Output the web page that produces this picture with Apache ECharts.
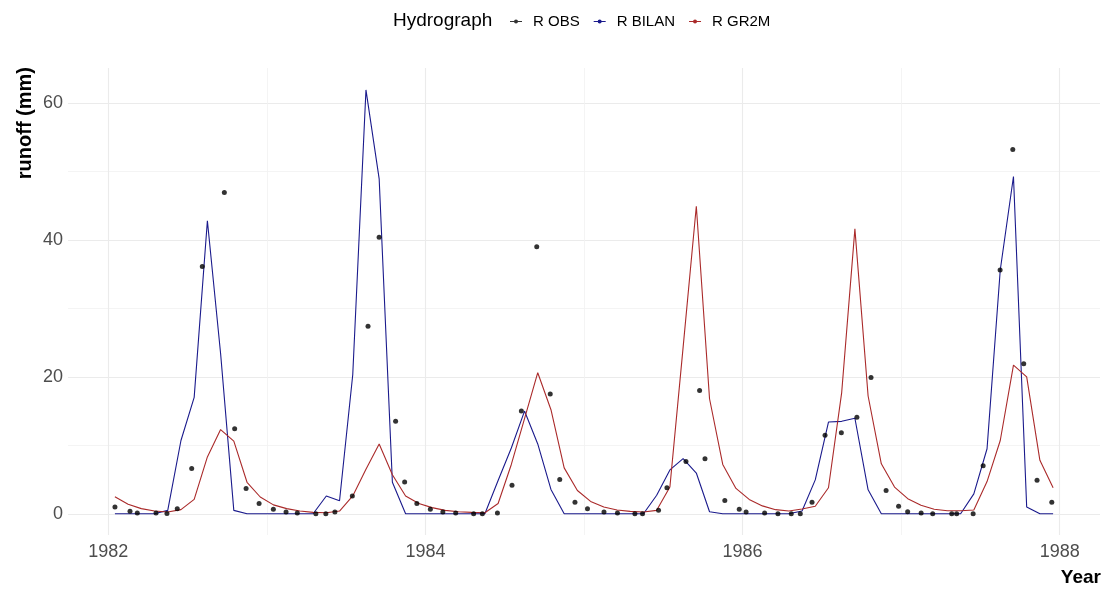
<!DOCTYPE html>
<html>
<head>
<meta charset="utf-8">
<script src="https://cdn.jsdelivr.net/npm/echarts@6/dist/echarts.min.js"></script>
<style>
html,body{margin:0;padding:0;background:#fff;}
#chart{width:1108px;height:589px;}
</style>
</head>
<body>
<div id="chart"></div>
<script>
// ---- data ----
const startYear = 1982;           // monthly model series, Jan 1982 .. Dec 1987 (mid-month)
const rBilan = [0,0,0,0,0.5,10.7,17.0,42.8,23.4,0.5,0,0,
                0,0,0,0,2.6,1.9,20.3,61.9,48.9,4.6,0,0,
                0,0,0,0,0,4.85,9.6,15.0,10.2,3.55,0,0,
                0,0,0,0,0,2.7,6.4,8.05,5.95,0.3,0,0,
                0,0,0,0,0.4,4.95,13.4,13.5,13.95,3.5,0,0,
                0,0,0,0,0,2.9,9.5,35.6,49.25,1.0,0,0];
const rGr2m = [2.5,1.4,0.75,0.4,0.27,0.6,2.1,8.3,12.3,10.6,4.6,2.45,
               1.3,0.75,0.4,0.2,0.15,0.4,2.6,6.5,10.2,5.7,2.6,1.5,
               0.9,0.5,0.3,0.2,0.15,1.5,7.2,13.9,20.6,15.2,6.7,3.4,
               1.8,1.0,0.55,0.35,0.25,0.5,3.9,24.3,44.9,16.8,7.2,3.7,
               2.1,1.15,0.6,0.4,0.7,1.1,3.8,17.7,41.6,17.2,7.3,3.9,
               2.2,1.25,0.65,0.45,0.45,0.55,4.7,10.7,21.7,20.0,7.8,3.8];
const obsTime = [1982.042,1982.137,1982.183,1982.301,1982.370,1982.435,1982.526,1982.593,1982.732,1982.797,1982.869,1982.951,
                 1983.041,1983.121,1983.192,1983.309,1983.372,1983.429,1983.539,1983.638,1983.708,1983.812,1983.869,1983.946,
                 1984.031,1984.110,1984.191,1984.304,1984.359,1984.454,1984.546,1984.605,1984.702,1984.787,1984.847,1984.943,
                 1985.022,1985.126,1985.211,1985.321,1985.369,1985.470,1985.523,1985.643,1985.729,1985.763,1985.888,1985.979,
                 1986.022,1986.139,1986.223,1986.307,1986.364,1986.438,1986.520,1986.623,1986.721,1986.810,1986.905,1986.984,
                 1987.041,1987.126,1987.199,1987.319,1987.350,1987.454,1987.517,1987.624,1987.704,1987.773,1987.857,1987.950];
const rObs = [1.0,0.36,0.1,0.1,0.05,0.75,6.6,36.1,46.9,12.4,3.7,1.5,
              0.65,0.27,0.1,0,0,0.25,2.6,27.4,40.4,13.5,4.65,1.5,
              0.65,0.27,0.1,0,0,0.1,4.15,15.0,39.0,17.5,5.0,1.7,
              0.75,0.27,0.1,0,0,0.5,3.8,7.65,18.0,8.05,1.95,0.65,
              0.27,0.1,0,0,0,1.7,11.45,11.85,14.1,19.9,3.4,1.1,
              0.3,0.1,0,0,0,0,7.0,35.6,53.2,21.9,4.9,1.7];
const xMajorTicks = [1982,1984,1986,1988];
const xMinorTicks = [1983,1985,1987];
const yMajorTicks = [0,20,40,60];
const yMinorTicks = [10,30,50];
const seriesNames = ['R OBS','R BILAN','R GR2M'];
const legendTitle = 'Hydrograph';
const xTitle = 'Year';
const yTitle = 'runoff (mm)';

// ---- build ----
const monthPos = rBilan.map((_, i) => startYear + (i + 0.5) / 12);
const bilanData = rBilan.map((v, i) => [monthPos[i], v]);
const gr2mData = rGr2m.map((v, i) => [monthPos[i], v]);
const obsData = rObs.map((v, i) => [obsTime[i], v]);

const FONT = '"Liberation Sans", Arial, Helvetica, sans-serif';
const XMIN = 1981.746, XMAX = 1988.254, YMIN = -3.1, YMAX = 65.1;
const icon = 'path://M0,4.45H12V5.55H0Z M4,5a2,2 0 1,1 4,0a2,2 0 1,1 -4,0Z';

const chart = echarts.init(document.getElementById('chart'), null, {renderer: 'canvas'});
chart.setOption({
  animation: false,
  backgroundColor: '#ffffff',
  grid: {left: 68, right: 8, top: 68, bottom: 54, containLabel: false},
  xAxis: [{
    type: 'value', min: XMIN, max: XMAX,
    axisLine: {show: false},
    axisTick: {show: false, customValues: xMajorTicks},
    axisLabel: {customValues: xMajorTicks, color: '#4D4D4D', fontSize: 18, fontFamily: FONT, margin: 8,
                formatter: v => String(Math.round(v))},
    splitLine: {show: true, lineStyle: {color: '#EBEBEB', width: 1.1}}
  }, {
    type: 'value', min: XMIN, max: XMAX, position: 'top',
    axisLine: {show: false}, axisLabel: {show: false},
    axisTick: {show: false, customValues: xMinorTicks},
    splitLine: {show: true, lineStyle: {color: '#F1F1F1', width: 0.8}}
  }],
  yAxis: [{
    type: 'value', min: YMIN, max: YMAX,
    axisLine: {show: false},
    axisTick: {show: false, customValues: yMajorTicks},
    axisLabel: {customValues: yMajorTicks, color: '#4D4D4D', fontSize: 18, fontFamily: FONT, margin: 5,
                formatter: v => String(Math.round(v))},
    splitLine: {show: true, lineStyle: {color: '#EBEBEB', width: 1.1}}
  }, {
    type: 'value', min: YMIN, max: YMAX, position: 'right',
    axisLine: {show: false}, axisLabel: {show: false},
    axisTick: {show: false, customValues: yMinorTicks},
    splitLine: {show: true, lineStyle: {color: '#F1F1F1', width: 0.8}}
  }],
  legend: {
    left: 505, top: 9,
    itemWidth: 12, itemHeight: 4, itemGap: 14,
    itemStyle: {borderWidth: 0},
    textStyle: {color: '#000', fontSize: 15, fontFamily: FONT, padding: [0, 0, 0, 6]},
    data: [
      {name: seriesNames[0], icon: icon},
      {name: seriesNames[1], icon: icon},
      {name: seriesNames[2], icon: icon}
    ]
  },
  graphic: [
    {type: 'text', left: 393, top: 11, style: {text: legendTitle, fill: '#000', font: '19px ' + FONT}},
    {type: 'text', x: 25, y: 67, rotation: Math.PI / 2,
     style: {text: yTitle, fill: '#000', font: 'bold 20px ' + FONT, textAlign: 'right', textVerticalAlign: 'middle'}},
    {type: 'text', x: 1101, y: 578,
     style: {text: xTitle, fill: '#000', font: 'bold 19px ' + FONT, textAlign: 'right', textVerticalAlign: 'middle'}}
  ],
  series: [
    {name: seriesNames[0], type: 'scatter', data: obsData, symbol: 'circle', symbolSize: 5,
     itemStyle: {color: '#000000'}, z: 4},
    {name: seriesNames[1], type: 'line', data: bilanData, showSymbol: false, symbol: 'circle',
     lineStyle: {color: '#1A1A8C', width: 1.1}, itemStyle: {color: '#1A1A8C'}, z: 3},
    {name: seriesNames[2], type: 'line', data: gr2mData, showSymbol: false, symbol: 'circle',
     lineStyle: {color: '#AA2A2A', width: 1.1}, itemStyle: {color: '#AA2A2A'}, z: 3}
  ]
});
</script>
</body>
</html>
